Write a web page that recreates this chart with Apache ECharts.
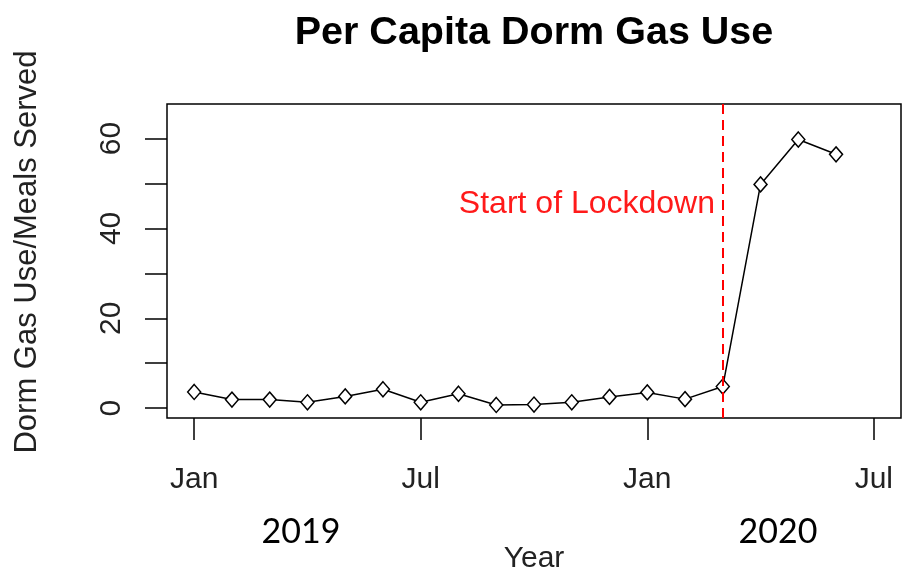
<!DOCTYPE html>
<html>
<head>
<meta charset="utf-8">
<script src="https://cdn.jsdelivr.net/npm/echarts@6/dist/echarts.min.js"></script>
<style>
  html, body { margin: 0; padding: 0; background: #fff; }
  #myChart { width: 905px; height: 579px; }
</style>
</head>
<body>
<div id="myChart"></div>
<script>
  // months counted from Jan 2019 (0) to Jun 2020 (17)
  var monthIndex = [0, 1, 2, 3, 4, 5, 6, 7, 8, 9, 10, 11, 12, 13, 14, 15, 16, 17];
  var gasUse = [3.6, 1.9, 1.9, 1.3, 2.6, 4.2, 1.3, 3.2, 0.7, 0.8, 1.3, 2.5, 3.5, 2.0, 4.8, 49.8, 59.8, 56.5];
  var xTicks = [0, 6, 12, 18];
  var xTickLabels = ['Jan', 'Jul', 'Jan', 'Jul'];
  var yTicks = [0, 10, 20, 30, 40, 50, 60];
  var yTickLabels = [0, 20, 40, 60];
  var lockdownMonth = 14;

  var axisFont = 'Liberation Sans, Arial, sans-serif';

  var points = [];
  for (var i = 0; i < monthIndex.length; i++) {
    points.push([monthIndex[i], gasUse[i]]);
  }

  var myChart = echarts.init(document.getElementById('myChart'));
  var option = {
    animation: false,
    backgroundColor: '#fff',
    title: {
      text: 'Per Capita Dorm Gas Use',
      left: 529,
      top: 8,
      textAlign: 'center',
      textStyle: {
        fontFamily: axisFont,
        fontWeight: 'bold',
        fontSize: 39.5,
        color: '#000'
      }
    },
    grid: {
      left: 167,
      right: 4,
      top: 104,
      bottom: 161,
      show: true,
      borderColor: '#000',
      borderWidth: 1.5,
      backgroundColor: 'transparent'
    },
    xAxis: {
      type: 'value',
      min: -0.72,
      max: 18.72,
      name: 'Year',
      nameLocation: 'middle',
      nameGap: 126,
      nameTextStyle: { fontFamily: axisFont, fontSize: 30, color: '#222', verticalAlign: 'top' },
      axisLine: { show: false, onZero: false },
      splitLine: { show: false },
      axisTick: {
        show: true,
        inside: false,
        length: 22,
        customValues: xTicks,
        lineStyle: { color: '#000', width: 1.5 }
      },
      axisLabel: {
        customValues: xTicks,
        margin: 47,
        fontFamily: axisFont,
        fontSize: 30,
        color: '#222',
        formatter: function (v) {
          var k = xTicks.indexOf(v);
          return k >= 0 ? xTickLabels[k] : '';
        }
      }
    },
    yAxis: {
      type: 'value',
      min: -2.2,
      max: 67.7,
      name: 'Dorm Gas Use/Meals Served',
      nameLocation: 'middle',
      nameGap: 124,
      nameRotate: 90,
      nameTextStyle: { fontFamily: axisFont, fontSize: 31, color: '#222', padding: [0, 0, 0, 18] },
      axisLine: { show: false, onZero: false },
      splitLine: { show: false },
      axisTick: {
        show: true,
        inside: false,
        length: 22,
        customValues: yTicks,
        lineStyle: { color: '#000', width: 1.5 }
      },
      axisLabel: {
        customValues: yTickLabels,
        rotate: 90,
        margin: 40,
        fontFamily: axisFont,
        fontSize: 30,
        color: '#222'
      }
    },
    series: [
      {
        type: 'line',
        data: points,
        symbol: 'diamond',
        symbolSize: [13, 15],
        lineStyle: { color: '#000', width: 1.5 },
        itemStyle: { color: '#fff', borderColor: '#000', borderWidth: 1.5 },
        z: 3,
        markLine: {
          silent: true,
          symbol: ['none', 'none'],
          label: { show: false },
          lineStyle: { color: '#ff0000', type: [10, 6], width: 2 },
          data: [{ xAxis: lockdownMonth }]
        }
      }
    ],
    graphic: [
      {
        type: 'text',
        x: 715,
        y: 204,
        style: {
          text: 'Start of Lockdown',
          font: '32px ' + axisFont,
          fill: '#ff1a1a',
          align: 'right',
          verticalAlign: 'middle'
        }
      },
      {
        type: 'text',
        x: 301,
        y: 532,
        style: {
          text: '2019',
          font: '34px Lato, sans-serif',
          fill: '#000',
          align: 'center',
          verticalAlign: 'middle'
        }
      },
      {
        type: 'text',
        x: 778,
        y: 532,
        style: {
          text: '2020',
          font: '34px Lato, sans-serif',
          fill: '#000',
          align: 'center',
          verticalAlign: 'middle'
        }
      }
    ]
  };
  myChart.setOption(option);
</script>
</body>
</html>
